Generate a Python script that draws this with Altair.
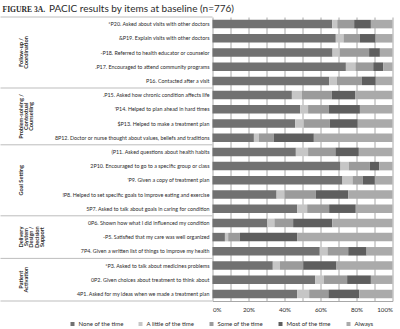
import altair as alt
import pandas as pd

title_bold = "FIGURE 3A."
title_rest = "PACIC results by items at baseline (n=776)"

items = [
    "*P20. Asked about visits with other doctors",
    "&P19. Explain visits with other doctors",
    "-P18. Referred to health educator or counselor",
    ".P17. Encouraged to attend community programs",
    "P16. Contacted after a visit",
    ".P15. Asked how chronic condition affects life",
    "'P14. Helped to plan ahead in hard times",
    "$P13. Helped to make a treatment plan",
    "8P12. Doctor or nurse thought about values, beliefs and traditions",
    "(P11. Asked questions about health habits",
    "2P10. Encouraged to go to a specific group or class",
    "'P9. Given a copy of treatment plan",
    "!P8. Helped to set specific goals to improve eating and exercise",
    "5P7. Asked to talk about goals in caring for condition",
    "0P6. Shown how what I did influenced my condition",
    "-P5. Satisfied that my care was well organized",
    "7P4. Given a written list of things to improve my health",
    "*P3. Asked to talk about medicines problems",
    "0P2. Given choices about treatment to think about",
    "4P1. Asked for my ideas when we made a treatment plan",
]

group_lines = [
    ["Follow-up /", "Coordination"],
    ["Problem-solving /", "Contextual", "Counselling"],
    ["Goal Setting"],
    ["Delivery", "System", "Design /", "Decision", "Support"],
    ["Patient", "Activation"],
]
group_sizes = [5, 4, 5, 3, 3]

categories = ["None of the time", "A little of the time", "Some of the time",
              "Most of the time", "Always"]
none_vals   = [66.5, 68.5, 66.7, 74.1, 64.8, 44.1, 48.7, 45.9, 23.0, 46.3,
               71.1, 72.2, 35.6, 47.0, 30.4, 6.9, 59.6, 33.5, 57.0, 47.0]
little_vals = [2.8, 4.3, 4.0, 5.3, 4.3, 5.5, 4.4, 4.8, 2.7, 6.8,
               4.6, 5.6, 4.4, 5.6, 4.0, 1.8, 4.3, 3.9, 4.9, 6.7]
some_vals   = [9.4, 9.1, 16.3, 9.9, 13.9, 16.7, 11.5, 14.5, 8.4, 15.2,
               11.7, 5.7, 17.4, 12.2, 10.4, 6.5, 11.5, 13.0, 12.9, 10.7]
most_vals   = [9.3, 8.7, 6.0, 5.5, 7.7, 13.1, 17.3, 15.5, 22.2, 13.0,
               5.2, 6.7, 18.0, 14.8, 21.7, 31.8, 10.2, 18.5, 13.2, 17.1]
always_vals = [12.0, 9.4, 7.0, 5.2, 9.3, 20.6, 18.1, 19.3, 43.7, 18.7,
               7.4, 9.8, 24.6, 20.4, 33.5, 53.0, 14.4, 31.1, 12.0, 18.5]
colors = ["#717171", "#c6c6c6", "#9b9b9b", "#5e5e5e", "#aaaaaa"]
x_ticks = [0, 10, 20, 30, 40, 50, 60, 70, 80, 90, 100]

FONT = "Lato"
TXT = "#2b2b2b"

# long table for bars
series = [none_vals, little_vals, some_vals, most_vals, always_vals]
rows = []
for i, it in enumerate(items):
    for k, cat in enumerate(categories):
        rows.append({"item": it, "idx": i, "cat": cat, "k": k, "value": series[k][i]})
bars_df = pd.DataFrame(rows)
items_df = pd.DataFrame({"item": items, "idx": list(range(len(items)))})

bounds, mids = [], []
start = 0
for g, n in enumerate(group_sizes):
    bounds.append(start - 0.5)
    mids.append({"mid": start + (n - 1) / 2, "lines": group_lines[g]})
    start += n
bounds.append(start - 0.5)
bounds_df = pd.DataFrame({"b": bounds})
mids_df = pd.DataFrame(mids)

yscale = alt.Scale(domain=[len(items) - 0.5, -0.5], nice=False, zero=False)
xscale = alt.Scale(domain=[0, 100], nice=False)

bars = alt.Chart(bars_df).transform_stack(
    stack="value", as_=["x0", "x1"], groupby=["item"],
    sort=[alt.SortField("k", order="ascending")]
).transform_calculate(
    ya="datum.idx - 0.3", yb="datum.idx + 0.3"
).mark_bar().encode(
    x=alt.X("x0:Q", scale=xscale, axis=alt.Axis(
        values=x_ticks, labelExpr="datum.value + '%'", title=None,
        grid=True, gridColor="#a8a8a8", gridWidth=1,
        domainColor="#a8a8a8", ticks=False, labelFontSize=6.2,
        labelFont=FONT, labelColor=TXT, labelPadding=5)),
    x2="x1:Q",
    y=alt.Y("ya:Q", scale=yscale, axis=None),
    y2="yb:Q",
    color=alt.Color("cat:N", scale=alt.Scale(domain=categories, range=colors),
                    legend=alt.Legend(
                        orient="none", legendX=-143, legendY=304,
                        direction="horizontal", columns=5, title=None,
                        symbolType="square", symbolSize=16, symbolStrokeWidth=0,
                        labelFontSize=6, labelFont=FONT, labelColor=TXT,
                        columnPadding=14, labelOffset=3)),
)

labels = alt.Chart(items_df).mark_text(
    align="right", baseline="middle", fontSize=5.35, font=FONT, color=TXT
).encode(
    x=alt.value(-3),
    y=alt.Y("idx:Q", scale=yscale),
    text="item:N",
)

seps = alt.Chart(bounds_df).mark_rule(color="#bdbdbd", strokeWidth=1).encode(
    x=alt.value(-212), x2=alt.value(0),
    y=alt.Y("b:Q", scale=yscale),
)

glabels = alt.Chart(mids_df).mark_text(
    angle=270, align="center", baseline="middle", fontSize=5.6,
    fontWeight="bold", font="Lato", color=TXT, lineHeight=5.4
).encode(
    x=alt.value(-192),
    y=alt.Y("mid:Q", scale=yscale),
    text="lines",
)

t1 = alt.Chart(pd.DataFrame({"t": [title_bold]})).mark_text(
    align="left", baseline="alphabetic", fontSize=7.6, fontWeight="bold",
    font="Liberation Serif", color=TXT
).encode(x=alt.value(-210), y=alt.value(-5), text="t:N")

t2 = alt.Chart(pd.DataFrame({"t": [title_rest]})).mark_text(
    align="left", baseline="alphabetic", fontSize=10, font="Lato", color=TXT
).encode(x=alt.value(-163.5), y=alt.value(-5), text="t:N")

chart = alt.layer(bars, labels, seps, glabels, t1, t2).properties(
    width=180, height=284,
    autosize=alt.AutoSizeParams(type="none"),
    padding={"left": 212.5, "top": 17, "right": 7.5, "bottom": 28},
    background="white",
).configure_view(stroke=None)

chart.save("out.html", embed_options={"renderer": "svg", "actions": False})
